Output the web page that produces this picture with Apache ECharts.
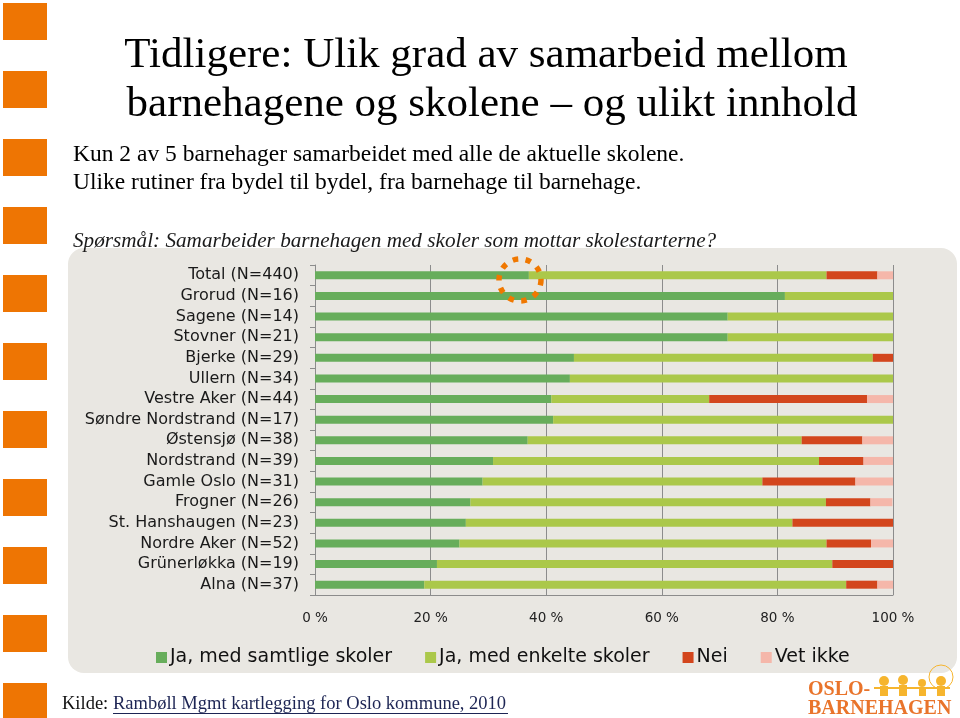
<!DOCTYPE html>
<html><head><meta charset="utf-8">
<script src="https://cdn.jsdelivr.net/npm/echarts@6/dist/echarts.min.js"></script>
<style>html,body{margin:0;padding:0;background:#fff}#c{width:960px;height:718px}</style>
</head><body><div id="c"></div>
<script>
var categories = ["Total (N=440)","Grorud (N=16)","Sagene (N=14)","Stovner (N=21)","Bjerke (N=29)","Ullern (N=34)","Vestre Aker (N=44)","Søndre Nordstrand (N=17)","Østensjø (N=38)","Nordstrand (N=39)","Gamle Oslo (N=31)","Frogner (N=26)","St. Hanshaugen (N=23)","Nordre Aker (N=52)","Grünerløkka (N=19)","Alna (N=37)"];
var seriesNames = ["Ja, med samtlige skoler","Ja, med enkelte skoler","Nei","Vet ikke"];
var samtlige = [37.0,81.3,71.4,71.4,44.8,44.1,40.9,41.2,36.8,30.8,29.0,26.9,26.1,25.0,21.1,18.9];
var enkelte  = [51.5,18.7,28.6,28.6,51.7,55.9,27.3,58.8,47.4,56.4,48.4,61.5,56.5,63.5,68.4,73.0];
var nei      = [8.8,0,0,0,3.5,0,27.3,0,10.5,7.7,16.1,7.7,17.4,7.7,10.5,5.4];
var vetIkke  = [2.7,0,0,0,0,0,4.5,0,5.3,5.1,6.5,3.8,0,3.8,0,2.7];
var xTicks = [0,20,40,60,80,100];

var colors = ['#67ad5b','#abc84a','#d3461d','#f5b7aa'];
var chart = echarts.init(document.getElementById('c'));

var squares = [];
for (var i = 0; i < 11; i++) {
  squares.push({type:'rect', shape:{x:3, y:3 + i*68, width:44, height:37}, style:{fill:'#ee7503'}, z:-5});
}

var sansFont = '"DejaVu Sans", Verdana, sans-serif';
var serif = '"Liberation Serif", "Times New Roman", serif';

function mk(vals, idx){
  return {name: seriesNames[idx], type:'bar', stack:'s', barWidth:8, data: vals,
    itemStyle:{color: colors[idx]}, emphasis:{disabled:true}};
}

chart.setOption({
  animation:false,
  grid:{left:315, right:67, top:265, bottom:123, containLabel:false},
  legend:{
    left:151, top:643, itemWidth:11, itemHeight:11, itemGap:33, icon:'rect',
    textStyle:{fontFamily:sansFont, fontSize:19, color:'#111', padding:[0,0,0,-2]},
    data: seriesNames
  },
  xAxis:{type:'value', min:0, max:100, interval:20,
    axisLine:{show:true, lineStyle:{color:'#8c8c8c'}},
    axisTick:{show:false},
    splitLine:{show:true, lineStyle:{color:'#8c8c8c', width:1}},
    axisLabel:{formatter:function(v){return v+' %';}, margin:16, fontFamily:sansFont, fontSize:13.5, color:'#222'}
  },
  yAxis:{type:'category', inverse:true, data:categories,
    axisLine:{show:true, lineStyle:{color:'#8c8c8c'}},
    axisTick:{show:true, length:5, interval:0, lineStyle:{color:'#8c8c8c'}},
    axisLabel:{interval:0, margin:16, fontFamily:sansFont, fontSize:16, color:'#1a1a1a', hideOverlap:false}
  },
  series:[mk(samtlige,0), mk(enkelte,1), mk(nei,2), mk(vetIkke,3)],
  graphic: squares.concat([
    {type:'rect', shape:{x:68, y:248, width:889, height:425, r:16}, style:{fill:'#e9e7e2'}, z:-10},
    {type:'text', x:486, y:56, style:{text:'Tidligere: Ulik grad av samarbeid mellom', font:'43px '+serif, fill:'#000', textAlign:'center', textVerticalAlign:'middle'}},
    {type:'text', x:492, y:105, style:{text:'barnehagene og skolene – og ulikt innhold', font:'43px '+serif, fill:'#000', textAlign:'center', textVerticalAlign:'middle'}},
    {type:'text', x:73, y:155, style:{text:'Kun 2 av 5 barnehager samarbeidet med alle de aktuelle skolene.', font:'23.5px '+serif, fill:'#000', textVerticalAlign:'middle'}},
    {type:'text', x:73, y:183, style:{text:'Ulike rutiner fra bydel til bydel, fra barnehage til barnehage.', font:'23.5px '+serif, fill:'#000', textVerticalAlign:'middle'}},
    {type:'text', x:73, y:241, style:{text:'Spørsmål: Samarbeider barnehagen med skoler som mottar skolestarterne?', font:'italic 21.2px '+serif, fill:'#1a1a1a', textVerticalAlign:'middle'}},
    {type:'circle', shape:{cx:520, cy:280, r:21}, style:{fill:'none', stroke:'#f07800', lineWidth:5.5, lineDash:[5.5,7.5]}, z:50},
    {type:'text', x:62, y:704, style:{text:'Kilde: ', font:'18.5px '+serif, fill:'#111', textVerticalAlign:'middle'}},
    {type:'text', x:113, y:704, style:{text:'Rambøll Mgmt kartlegging for Oslo kommune, 2010', font:'18.5px '+serif, fill:'#1d2554', textVerticalAlign:'middle'}},
    {type:'line', shape:{x1:113, y1:713.5, x2:508, y2:713.5}, style:{stroke:'#1d2554', lineWidth:1}},
    {type:'text', x:808, y:690, style:{text:'OSLO-', font:'bold 20px '+serif, fill:'#e9742b', textVerticalAlign:'middle'}},
    {type:'text', x:808, y:709, style:{text:'BARNEHAGEN', font:'bold 20px '+serif, fill:'#e9742b', textVerticalAlign:'middle'}},
    {type:'circle', shape:{cx:884, cy:681, r:5}, style:{fill:'#f6b52e'}},
    {type:'circle', shape:{cx:903, cy:680, r:5}, style:{fill:'#f6b52e'}},
    {type:'circle', shape:{cx:922, cy:683, r:4}, style:{fill:'#f6b52e'}},
    {type:'circle', shape:{cx:941, cy:681, r:5}, style:{fill:'#f6b52e'}},
    {type:'rect', shape:{x:880, y:686, width:8, height:10}, style:{fill:'#f6b52e'}},
    {type:'rect', shape:{x:899, y:685, width:8, height:11}, style:{fill:'#f6b52e'}},
    {type:'rect', shape:{x:919, y:687, width:7, height:9}, style:{fill:'#f6b52e'}},
    {type:'rect', shape:{x:937, y:686, width:8, height:10}, style:{fill:'#f6b52e'}},
    {type:'line', shape:{x1:874, y1:688, x2:950, y2:688}, style:{stroke:'#f6b52e', lineWidth:2}},
    {type:'circle', shape:{cx:941, cy:677, r:12}, style:{fill:'none', stroke:'#f6b52e', lineWidth:1}}
  ])
});
</script></body></html>
